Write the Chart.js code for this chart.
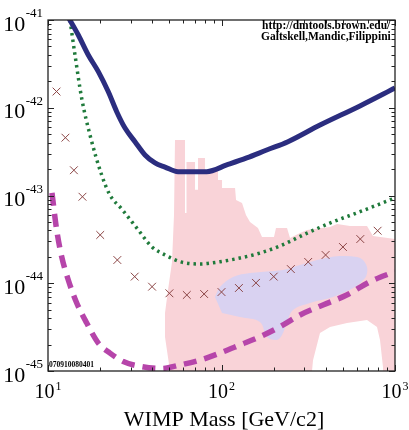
<!DOCTYPE html>
<html>
<head>
<meta charset="utf-8">
<script src="https://cdn.jsdelivr.net/npm/chart.js@4.4.0/dist/chart.umd.min.js"></script>
<style>
  html, body { margin: 0; padding: 0; background: #fff; }
  #chart { display: block; }
</style>
</head>
<body>
<canvas id="chart" width="409" height="430"></canvas>
<script>
// WIMP cross section limits vs mass, dmtools style log-log plot

// axis decades and the exponents shown under / beside them
const xDecades = [10, 100, 1000];
const xExponents = ['1', '2', '3'];
const yDecades = [1e-41, 1e-42, 1e-43, 1e-44, 1e-45];
const yExponents = ['-41', '-42', '-43', '-44', '-45'];

const xTitle = 'WIMP Mass [GeV/c2]';
const noteLines = ['http://dmtools.brown.edu/', 'Galtskell,Mandic,Filippini'];
const plotId = '070910080401';

// solid blue limit
const blueMass = [13.0, 14.95, 17.07, 19.5, 22.27, 24.89, 27.79, 31.72, 36.23, 41.37, 47.25, 56.15, 82.2, 107.2, 139.7, 182.2, 241.7, 369.6, 628, 1000];
const blueSigma = [1.1e-41, 6.74e-42, 3.99e-42, 2.58e-42, 1.52e-42, 9.02e-43, 5.87e-43, 4.10e-43, 2.90e-43, 2.35e-43, 2.11e-43, 1.87e-43, 1.87e-43, 2.23e-43, 2.68e-43, 3.30e-43, 4.10e-43, 6.35e-43, 1.05e-42, 1.68e-42];

// green dotted limit
const greenMass = [13.39, 14.31, 15.64, 17.46, 20.39, 22.77, 26.6, 33.15, 39.6, 47.25, 57.67, 75.2, 98.0, 127.8, 166.7, 217.4, 309.8, 441, 628, 1000];
const greenSigma = [1.0e-41, 3.99e-42, 1.28e-42, 4.89e-43, 1.71e-43, 1.01e-43, 7.02e-44, 4.05e-44, 2.61e-44, 2.10e-44, 1.76e-44, 1.66e-44, 1.76e-44, 1.94e-44, 2.21e-44, 2.66e-44, 3.71e-44, 5.02e-44, 6.53e-44, 9.37e-44];

// cross markers
const crossMass = [11.2, 12.6, 14.1, 15.8, 20, 25.1, 31.6, 39.8, 50.1, 63.1, 79.4, 100, 126, 158, 200, 251, 316, 398, 501, 631, 794];
const crossSigma = [1.53e-42, 4.56e-43, 1.94e-43, 9.68e-44, 3.55e-44, 1.84e-44, 1.19e-44, 9.14e-45, 7.68e-45, 7.35e-45, 7.54e-45, 7.94e-45, 8.83e-45, 1.01e-44, 1.19e-44, 1.45e-44, 1.75e-44, 2.10e-44, 2.59e-44, 3.19e-44, 3.97e-44];

// magenta dashed limit
const magentaMass = [10.54, 11.22, 11.99, 13.09, 14.64, 16.72, 19.5, 22.77, 27.16, 34.67, 45.2, 57.67, 75.2, 98.0, 127.8, 166.7, 217.4, 283.5, 384.6, 526.8, 717.5, 1000];
const magentaSigma = [1.07e-43, 4.05e-44, 2.01e-44, 1.09e-44, 5.96e-45, 3.52e-45, 2.08e-45, 1.60e-45, 1.28e-45, 1.12e-45, 1.07e-45, 1.17e-45, 1.33e-45, 1.60e-45, 1.98e-45, 2.46e-45, 3.20e-45, 4.35e-45, 5.65e-45, 7.35e-45, 1.04e-44, 1.36e-44];

// pink allowed region (outline, closed)
const pinkMass = [50.49, 47.25, 47.25, 49.16, 51.85, 53.24, 53.95, 61.6, 61.6, 62.85, 62.85, 70.37, 70.37, 73.2, 73.2, 80.3, 80.3, 95.45, 95.45, 100.7, 100.7, 119.7, 121.3, 131.3, 138.4, 146.0, 162.3, 171.2, 200.7, 206.1, 238.6, 248.3, 283.5, 311.1, 422.1, 463.2, 550.4, 689.7, 746.8, 1000, 1000, 852.7, 852.7, 819.5, 787.6, 689.7, 528.9, 422.1, 369.6, 336.9, 332.4];
const pinkSigma = [1e-45, 2.44e-45, 4.58e-45, 8.38e-45, 1.75e-44, 6.00e-44, 4.29e-43, 4.29e-43, 6.32e-44, 6.32e-44, 2.41e-43, 2.41e-43, 1.16e-43, 1.16e-43, 2.68e-43, 2.68e-43, 1.95e-43, 1.95e-43, 1.50e-43, 1.50e-43, 1.22e-43, 1.22e-43, 8.89e-44, 8.21e-44, 6.00e-44, 4.99e-44, 4.26e-44, 3.37e-44, 3.37e-44, 4.26e-44, 4.26e-44, 3.28e-44, 3.74e-44, 4.04e-44, 4.38e-44, 4.73e-44, 4.49e-44, 4.49e-44, 3.46e-44, 3.19e-44, 1e-45, 1e-45, 1.11e-45, 2.26e-45, 3.17e-45, 3.81e-45, 3.52e-45, 3.17e-45, 2.71e-45, 1.33e-45, 1e-45];

// lavender region (outline, closed)
const lavMass = [91.7, 98.0, 116.5, 146.0, 226.2, 283.5, 355.2, 482.0, 604, 654.1, 689.7, 689.7, 671.7, 588.1, 439.2, 323.7, 258.3, 238.6, 223.2, 208.9, 182.9, 166.7, 127.8, 100.7];
const lavSigma = [6.97e-45, 9.06e-45, 1.18e-44, 1.31e-44, 1.42e-44, 1.61e-44, 1.84e-44, 2.04e-44, 1.99e-44, 1.84e-44, 1.53e-44, 1.30e-44, 1.15e-44, 9.06e-45, 6.97e-45, 5.96e-45, 4.96e-45, 3.62e-45, 2.57e-45, 2.26e-45, 2.44e-45, 3.62e-45, 4.12e-45, 4.58e-45];

const SERIF = '"Liberation Serif", "Times New Roman", serif';

function pts(xs, ys) {
  return xs.map((x, i) => ({ x, y: ys[i] }));
}

// frame, inward ticks, power-of-ten labels and the text notes
const framePlugin = {
  id: 'frame',
  afterDatasetsDraw(chart) {
    const { ctx, chartArea: a, scales: { x, y } } = chart;
    ctx.save();

    ctx.strokeStyle = '#222';
    ctx.lineWidth = 1;
    ctx.beginPath();
    for (let d = 0; d < xDecades.length; d++) {
      for (let k = 1; k <= 9; k++) {
        if (d === xDecades.length - 1 && k > 1) break;
        const px = Math.round(x.getPixelForValue(xDecades[d] * k)) + 0.5;
        const len = k === 1 ? 6 : 3.5;
        ctx.moveTo(px, a.bottom); ctx.lineTo(px, a.bottom - len);
        ctx.moveTo(px, a.top); ctx.lineTo(px, a.top + len);
      }
    }
    for (let d = yDecades.length - 1; d >= 0; d--) {
      for (let k = 1; k <= 9; k++) {
        if (d === 0 && k > 1) break;
        const py = Math.round(y.getPixelForValue(yDecades[d] * k)) + 0.5;
        const len = k === 1 ? 6 : 3.5;
        ctx.moveTo(a.left, py); ctx.lineTo(a.left + len, py);
        ctx.moveTo(a.right, py); ctx.lineTo(a.right - len, py);
      }
    }
    ctx.stroke();

    ctx.lineWidth = 1.3;
    ctx.strokeRect(a.left, a.top, a.right - a.left, a.bottom - a.top);

    ctx.fillStyle = '#000';
    ctx.textBaseline = 'alphabetic';
    ctx.textAlign = 'left';

    // y labels: 10 with raised exponent, right aligned near the axis
    yDecades.forEach((v, i) => {
      const py = y.getPixelForValue(v);
      ctx.font = '13px ' + SERIF;
      const we = ctx.measureText(yExponents[i]).width;
      ctx.font = '22px ' + SERIF;
      const wb = ctx.measureText('10').width;
      const right = a.left - 5;
      ctx.fillText('10', right - we - wb - 0.5, py + 10.5);
      ctx.font = '13px ' + SERIF;
      ctx.fillText(yExponents[i], right - we, py - 3);
    });

    // x labels centred on the decade ticks
    xDecades.forEach((v, i) => {
      const px = x.getPixelForValue(v);
      ctx.font = '12px ' + SERIF;
      const we = ctx.measureText(xExponents[i]).width;
      ctx.font = '20px ' + SERIF;
      const wb = ctx.measureText('10').width;
      const start = px - (wb + we + 1) / 2;
      ctx.fillText('10', start, a.bottom + 27);
      ctx.font = '12px ' + SERIF;
      ctx.fillText(xExponents[i], start + wb + 1, a.bottom + 19);
    });

    ctx.font = '22px ' + SERIF;
    ctx.textAlign = 'center';
    ctx.fillText(xTitle, 224, 426);

    // notes in the top right corner
    ctx.textAlign = 'left';
    ctx.font = 'bold 11.5px ' + SERIF;
    ctx.fillText(noteLines[0], 262, 29);
    ctx.save();
    ctx.beginPath();
    ctx.rect(a.left, a.top, a.right - a.left, a.bottom - a.top);
    ctx.clip();
    ctx.fillText(noteLines[1], 261, 40);
    ctx.restore();

    ctx.font = 'bold 7.5px ' + SERIF;
    ctx.fillText(plotId, a.left + 1, a.bottom - 4);

    ctx.restore();
  }
};

new Chart(document.getElementById('chart'), {
  type: 'scatter',
  data: {
    datasets: [
      {
        data: pts(blueMass, blueSigma), showLine: true, fill: false,
        borderColor: '#2b2d7f', borderWidth: 5, pointRadius: 0,
        cubicInterpolationMode: 'monotone', clip: 0, order: 0
      },
      {
        data: pts(crossMass, crossSigma), showLine: false,
        pointStyle: 'crossRot', pointRadius: 5.5, pointBorderWidth: 1,
        pointBorderColor: '#8b4545', pointBackgroundColor: '#8b4545', clip: 0, order: 1
      },
      {
        data: pts(greenMass, greenSigma), showLine: true, fill: false,
        borderColor: '#1f7a3b', borderWidth: 3.5, borderDash: [2.5, 4], pointRadius: 0,
        cubicInterpolationMode: 'monotone', clip: 0, order: 2
      },
      {
        data: pts(magentaMass, magentaSigma), showLine: true, fill: false,
        borderColor: '#b645aa', borderWidth: 5.5, borderDash: [13, 8], pointRadius: 0,
        cubicInterpolationMode: 'monotone', clip: 0, order: 3
      },
      {
        data: pts(lavMass, lavSigma), showLine: true, fill: 'shape',
        backgroundColor: '#d9d2f1', borderColor: 'rgba(0,0,0,0)', borderWidth: 0,
        pointRadius: 0, tension: 0.35, clip: 0, order: 4
      },
      {
        data: pts(pinkMass, pinkSigma), showLine: true, fill: 'shape',
        backgroundColor: '#f9d3d8', borderColor: 'rgba(0,0,0,0)', borderWidth: 0,
        pointRadius: 0, tension: 0, clip: 0, order: 5
      }
    ]
  },
  options: {
    responsive: false,
    animation: false,
    devicePixelRatio: 1,
    events: [],
    layout: { padding: { left: 48, right: 14, top: 20, bottom: 59 } },
    plugins: { legend: { display: false }, tooltip: { enabled: false } },
    scales: {
      x: { type: 'logarithmic', min: 10, max: 1000, display: false },
      y: { type: 'logarithmic', min: 1e-45, max: 1e-41, display: false }
    }
  },
  plugins: [framePlugin]
});
</script>
</body>
</html>
